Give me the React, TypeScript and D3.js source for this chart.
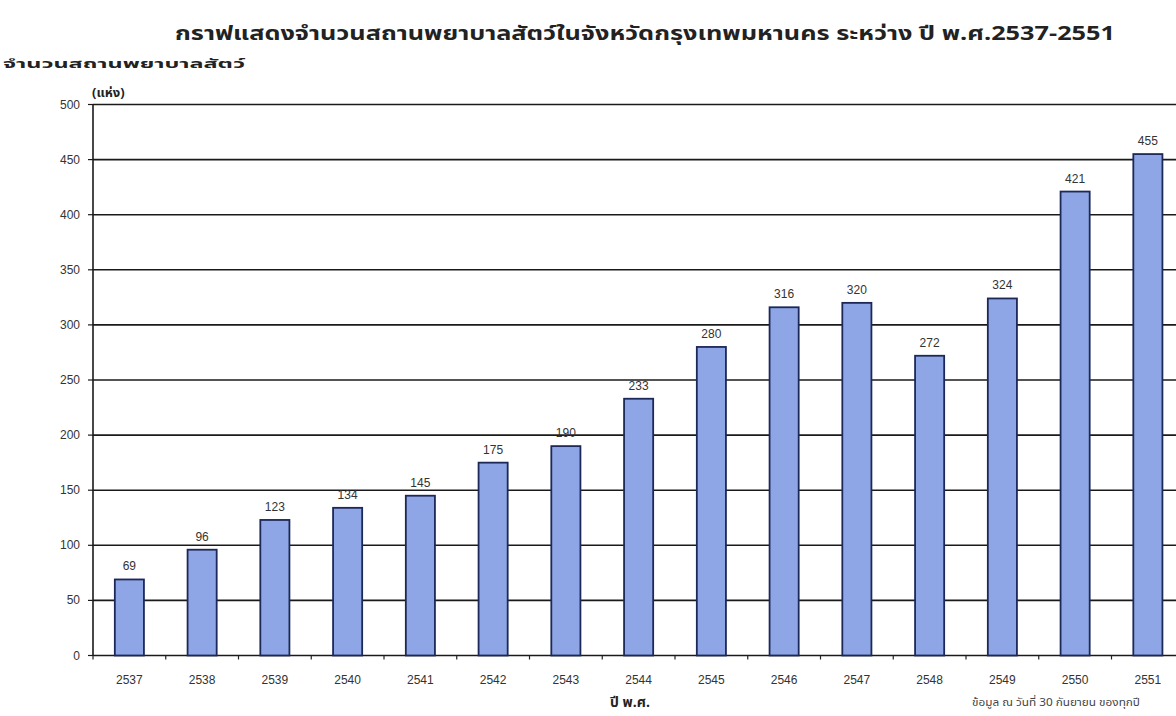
import React from "react";
import * as d3 from "d3";

const years = ["2537","2538","2539","2540","2541","2542","2543","2544","2545","2546","2547","2548","2549","2550","2551"];
const counts = [69, 96, 123, 134, 145, 175, 190, 233, 280, 316, 320, 272, 324, 421, 455];
const yTicks = [0, 50, 100, 150, 200, 250, 300, 350, 400, 450, 500];

const title = "กราฟแสดงจำนวนสถานพยาบาลสัตว์ในจังหวัดกรุงเทพมหานคร ระหว่าง ปี พ.ศ.2537-2551";
const yLabel = "จำนวนสถานพยาบาลสัตว์";
const yUnit = "(แห่ง)";
const xLabel = "ปี พ.ศ.";
const note = "ข้อมูล ณ วันที่ 30 กันยายน ของทุกปี";

const W = 1176, H = 716;
const left = 93, bottom = 655.5, top = 104.5;
const bandW = 72.75;

export default function App() {
  const x = d3.scaleBand<string>().domain(years).range([left, left + bandW * years.length]).paddingInner(0.6).paddingOuter(0.3);
  const y = d3.scaleLinear().domain([0, 500]).range([bottom, top]);
  const font = "Tahoma, 'Noto Sans Thai', 'Liberation Sans', Arial, sans-serif";
  const numFont = "'Liberation Sans', Arial, sans-serif";
  const boundaries = d3.range(years.length + 1).map(i => left + i * bandW);
  return (
    <div style={{ position: "fixed", left: 0, top: 0, width: W, height: H, background: "#fff" }}>
      <svg width={W} height={H} style={{ display: "block" }}>
        <rect width={W} height={H} fill="#fff" />
        <text x={645} y={40} textAnchor="middle" fontFamily={font} fontWeight="bold" fontSize={19} fill="#222" textLength={940} lengthAdjust="spacingAndGlyphs">{title}</text>
        <text x={3} y={68} fontFamily={font} fontWeight="bold" fontSize={12.5} fill="#222" textLength={242} lengthAdjust="spacingAndGlyphs">{yLabel}</text>
        <text x={92} y={97} fontFamily={font} fontWeight="bold" fontSize={13} fill="#222">{yUnit}</text>
        {yTicks.map(t => (
          <g key={t}>
            <line x1={left} x2={W} y1={y(t)} y2={y(t)} stroke="#1a1a1a" strokeWidth={1.6} />
            <line x1={left - 5} x2={left} y1={y(t)} y2={y(t)} stroke="#1a1a1a" strokeWidth={1.2} />
            <text x={80} y={y(t) + 4} textAnchor="end" fontFamily={numFont} fontSize={12} fill="#333">{t}</text>
          </g>
        ))}
        <line x1={left} x2={left} y1={top} y2={bottom} stroke="#1a1a1a" strokeWidth={1.6} />
        {boundaries.map((b, i) => (
          <line key={i} x1={b} x2={b} y1={bottom} y2={bottom + 4} stroke="#222" strokeWidth={1.2} />
        ))}
        {years.map((yr, i) => {
          const bx = x(yr)!;
          const bw = x.bandwidth();
          const v = counts[i];
          return (
            <g key={yr}>
              <rect x={bx} y={y(v)} width={bw} height={bottom - y(v)} fill="#8fa6e6" stroke="#1c2858" strokeWidth={1.8} />
              <text x={bx + bw / 2} y={y(v) - 9} textAnchor="middle" fontFamily={numFont} fontSize={12} fill="#333">{v}</text>
              <text x={bx + bw / 2} y={684} textAnchor="middle" fontFamily={numFont} fontSize={12} fill="#333">{yr}</text>
            </g>
          );
        })}
        <text x={630} y={707} textAnchor="middle" fontFamily={font} fontWeight="bold" fontSize={14} fill="#222">{xLabel}</text>
        <text x={1056} y={706} textAnchor="middle" fontFamily={font} fontSize={11} fill="#444" textLength={168} lengthAdjust="spacingAndGlyphs">{note}</text>
      </svg>
    </div>
  );
}
